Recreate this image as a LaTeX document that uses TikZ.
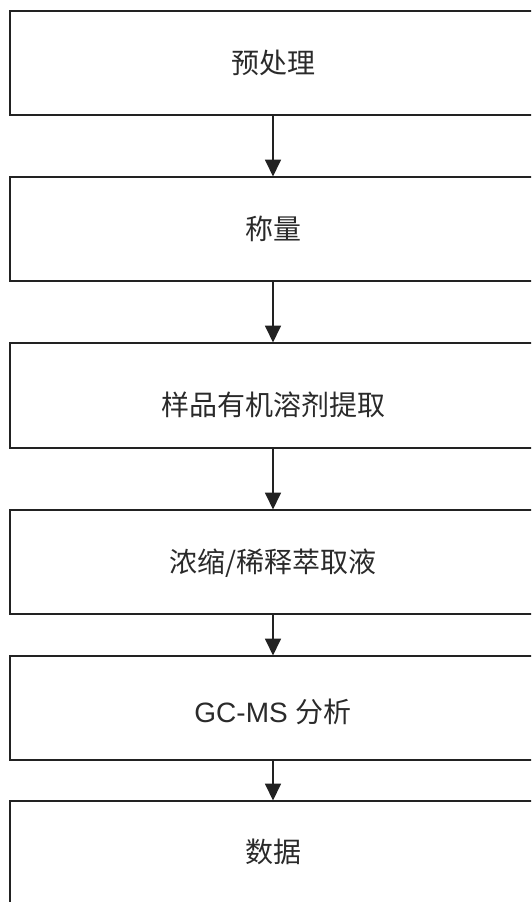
\documentclass[tikz,border=0pt]{standalone}
\usepackage{fontspec}
\setmainfont{Liberation Sans}
\newfontfamily\cjk{Noto Sans CJK SC}
\usetikzlibrary{arrows.meta}
\definecolor{ink}{HTML}{222222}
\definecolor{txt}{HTML}{2A2A2A}
\tikzset{
  stagebox/.style={draw=ink, line width=1.8pt, minimum width=526pt, inner sep=0pt, anchor=north},
  stagetext/.style={text=txt, font=\fontsize{28}{31}\selectfont, inner sep=0pt},
  flowarrow/.style={draw=ink, line width=1.8pt, -{Triangle[width=16pt,length=17pt]}, shorten >=-0.5pt}
}
\begin{document}
\begin{tikzpicture}[x=1pt,y=-1pt]
\useasboundingbox (0,0) rectangle (531,902);
\clip (0,0) rectangle (531,902);
\node[stagebox, minimum height=104pt] (b1) at (273,10) {};
\node[stagebox, minimum height=104pt] (b2) at (273,176) {};
\node[stagebox, minimum height=105pt] (b3) at (273,342) {};
\node[stagebox, minimum height=104pt] (b4) at (273,509) {};
\node[stagebox, minimum height=104pt] (b5) at (273,655) {};
\node[stagebox, minimum height=104pt] (b6) at (273,800) {};
\node[stagetext] (t1) at (273,63) {\cjk 预处理};
\node[stagetext] (t2) at (273,229) {\cjk 称量};
\node[stagetext] (t3) at (273,405) {\cjk 样品有机溶剂提取};
\node[stagetext] (t4) at (273,563) {\cjk 浓缩/稀释萃取液};
\node[stagetext] (t5) at (273,712) {GC-MS {\cjk 分析}};
\node[stagetext] (t6) at (273,852) {\cjk 数据};
\draw[flowarrow] (b1.south) -- (b2.north);
\draw[flowarrow] (b2.south) -- (b3.north);
\draw[flowarrow] (b3.south) -- (b4.north);
\draw[flowarrow] (b4.south) -- (b5.north);
\draw[flowarrow] (b5.south) -- (b6.north);
\end{tikzpicture}
\end{document}
